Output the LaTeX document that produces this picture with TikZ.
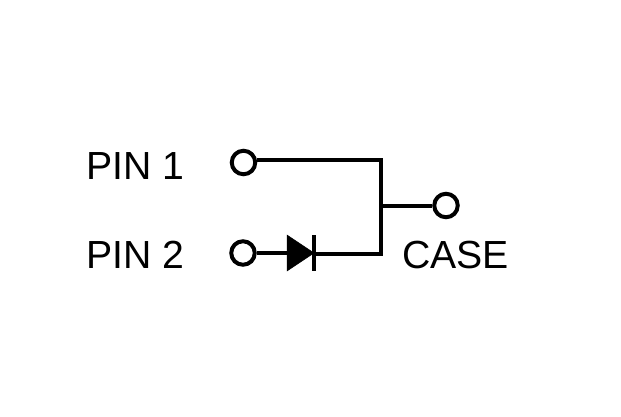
\documentclass[tikz,border=0pt]{standalone}
\usepackage{fontspec}
\setmainfont{Liberation Sans}
\usetikzlibrary{calc}
\begin{document}
\begin{tikzpicture}[x=1pt,y=-1pt,line width=3.4pt,
  pin/.style={circle,draw,fill=white,minimum size=23.5pt,inner sep=0pt,line width=4pt},
  lbl/.style={font=\fontsize{39.2}{39.2}\selectfont,inner sep=0pt}]
\useasboundingbox (0,0) rectangle (621,416);

\coordinate (T) at (381,160);
\coordinate (J) at (381,205.5);
\coordinate (B) at (381,254);
\coordinate (AK) at (288,253);
\coordinate (CK) at (314,253);
\coordinate (TA) at (287,235);
\coordinate (BA) at (287,271);

\node[pin] (P1) at (243.5,162.5) {};
\node[pin] (P2) at (243,253) {};
\node[pin] (C) at (446,205.5) {};

\node[lbl,anchor=base west] (L1) at (84.5,179) {PIN 1};
\node[lbl,anchor=base west] (L2) at (84.5,268) {PIN 2};
\node[lbl,anchor=base west] (L3) at (400.5,268) {CASE};

\draw[line join=miter] (P1.east |- T) -- (T) -- (B) -- (CK |- B);
\draw[line width=4.4pt] (T) -- (B);
\draw[line width=4pt] (J) -- (C);
\draw (P2) -- (AK);
\draw[fill=black,line width=0.5pt] (TA) -- (BA) -- (CK) -- cycle;
\draw ($(CK)+(0,-18)$) -- ($(CK)+(0,18)$);
\end{tikzpicture}
\end{document}
